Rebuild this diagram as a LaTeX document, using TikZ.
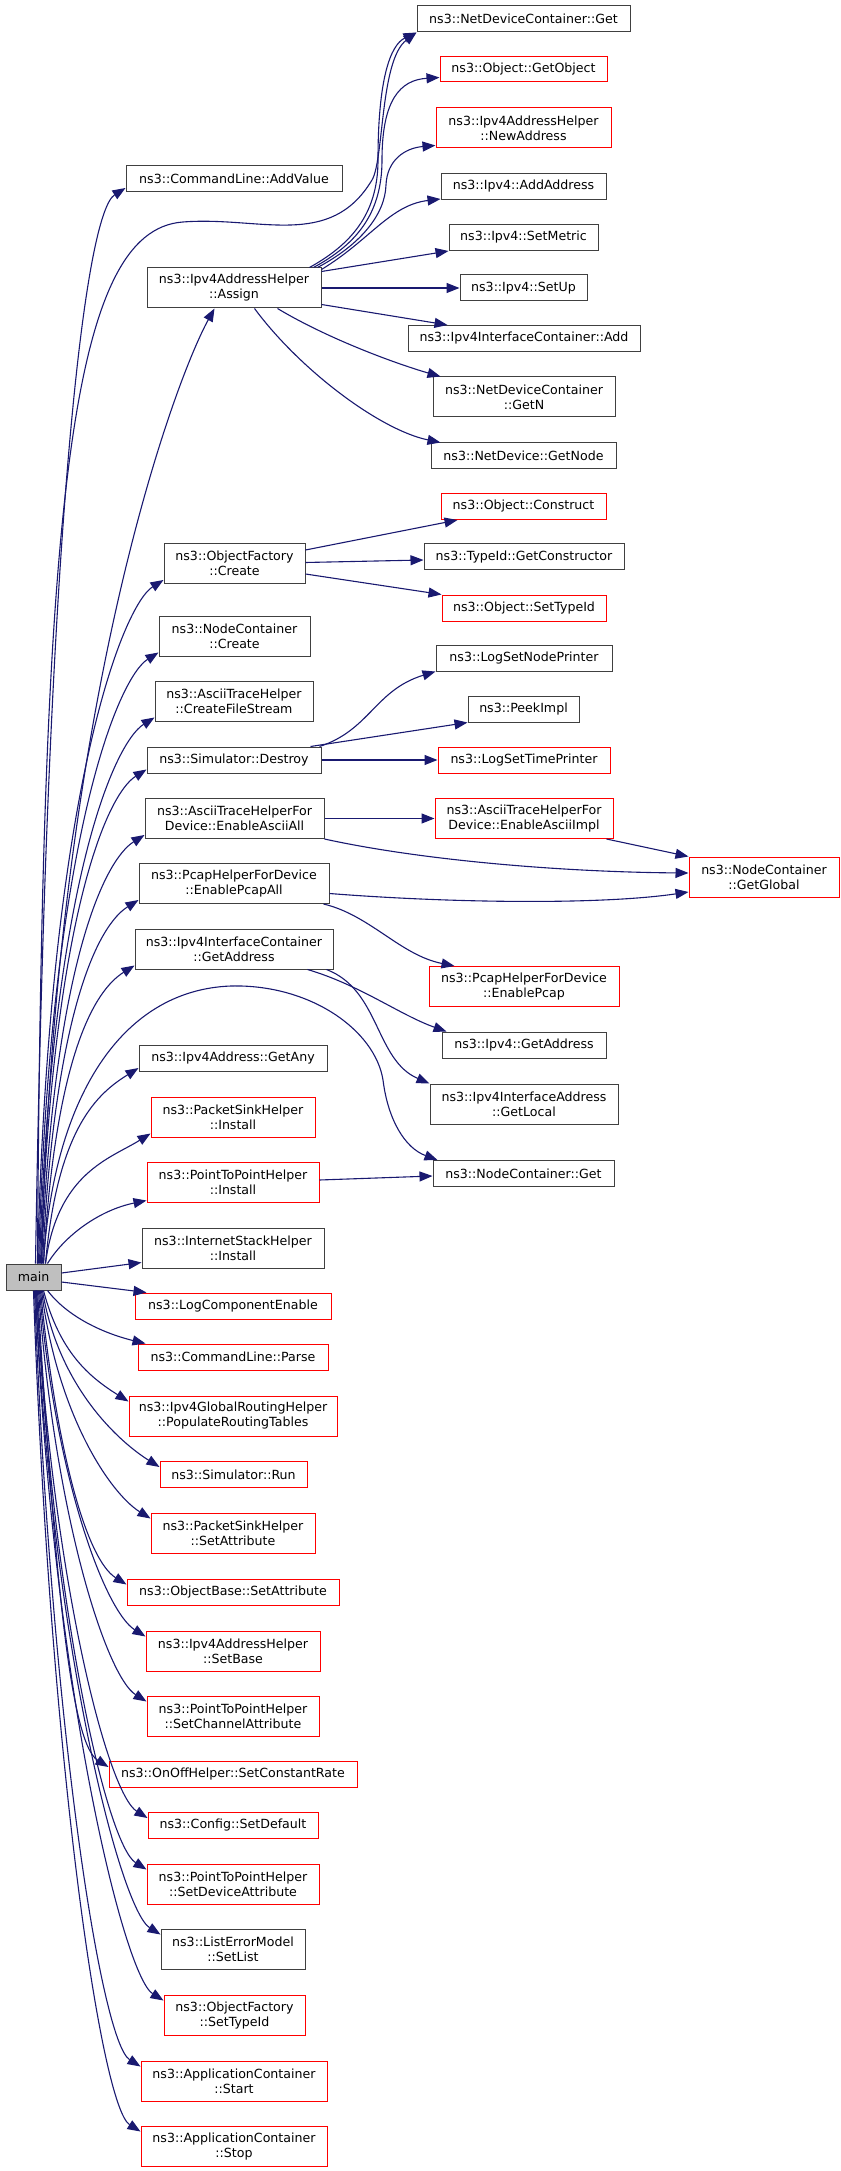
\documentclass[tikz,border=0pt]{standalone}
\usepackage{fontspec}
\usetikzlibrary{arrows.meta,calc}
\newfontfamily\dejavu{DejaVu Sans}
\newdimen\gpx \gpx=0.5pt
\newcommand\graphfont{\dejavu\fontsize{6.3}{7.5}\selectfont}
\definecolor{edgeblue}{HTML}{191970}
\definecolor{boxgrey}{HTML}{404040}
\definecolor{mainfill}{HTML}{BFBFBF}

\begin{document}
\begin{tikzpicture}[x=0.5pt,y=-0.5pt,
  fn/.style={draw=boxgrey, fill=white, line width=0.5pt, inner sep=0pt, align=center, font=\graphfont, minimum height=26\gpx},
  fnred/.style={fn, draw=red},
  two/.style={minimum height=40\gpx},
  callarrow/.style={draw=edgeblue, line width=0.55pt, -{Triangle[length=6.5pt,width=5pt]}}]
\useasboundingbox (0,0) rectangle (840,2171);

% callees of Assign, Create, Destroy, ...
\node[fn, minimum width=213\gpx] (ndcget) at (523.5,19) {ns3::NetDeviceContainer::Get};
\node[fnred, minimum width=167\gpx, minimum height=25\gpx] (getobject) at (523.5,69.5) {ns3::Object::GetObject};
\node[fnred, two, minimum width=175\gpx] (newaddress) at (523.5,128) {ns3::Ipv4AddressHelper\\::NewAddress};
\node[fn, minimum width=165\gpx] (addaddress) at (523.5,186.5) {ns3::Ipv4::AddAddress};
\node[fn, minimum width=149\gpx] (setmetric) at (523.5,237.5) {ns3::Ipv4::SetMetric};
\node[fn, minimum width=127\gpx] (setup) at (523.5,288) {ns3::Ipv4::SetUp};
\node[fn, minimum width=232\gpx] (ifcadd) at (524,338.5) {ns3::Ipv4InterfaceContainer::Add};
\node[fn, two, minimum width=182\gpx] (getn) at (524,397) {ns3::NetDeviceContainer\\::GetN};
\node[fn, minimum width=185\gpx] (getnode) at (523.5,456) {ns3::NetDevice::GetNode};
\node[fnred, minimum width=165\gpx] (construct) at (523.5,506.5) {ns3::Object::Construct};
\node[fn, minimum width=200\gpx] (getconstructor) at (524,557) {ns3::TypeId::GetConstructor};
\node[fnred, minimum width=164\gpx] (settypeid) at (524,608) {ns3::Object::SetTypeId};
\node[fn, minimum width=176\gpx] (lognodeprinter) at (524,658) {ns3::LogSetNodePrinter};
\node[fn, minimum width=111\gpx] (peekimpl) at (523.5,709) {ns3::PeekImpl};
\node[fnred, minimum width=172\gpx] (logtimeprinter) at (524,760) {ns3::LogSetTimePrinter};
\node[fnred, two, minimum width=178\gpx] (asciiimpl) at (524,818.5) {ns3::AsciiTraceHelperFor\\Device::EnableAsciiImpl};
\node[fnred, two, minimum width=190\gpx] (enablepcap) at (524,986.5) {ns3::PcapHelperForDevice\\::EnablePcap};
\node[fn, minimum width=164\gpx] (ipv4getaddress) at (524,1045) {ns3::Ipv4::GetAddress};
\node[fn, two, minimum width=188\gpx] (getlocal) at (524,1104) {ns3::Ipv4InterfaceAddress\\::GetLocal};
\node[fn, minimum width=181\gpx] (ncget) at (523.5,1173.5) {ns3::NodeContainer::Get};
\node[fnred, two, minimum width=150\gpx] (getglobal) at (764,877) {ns3::NodeContainer\\::GetGlobal};

% callees of main
\node[fn, minimum width=216\gpx] (addvalue) at (234,178.5) {ns3::CommandLine::AddValue};
\node[fn, two, minimum width=174\gpx] (assign) at (234,288) {ns3::Ipv4AddressHelper\\::Assign};
\node[fn, two, minimum width=141\gpx] (ofcreate) at (234.5,563.5) {ns3::ObjectFactory\\::Create};
\node[fn, two, minimum width=151\gpx] (nccreate) at (234.5,636) {ns3::NodeContainer\\::Create};
\node[fn, two, minimum width=158\gpx] (filestream) at (234,701) {ns3::AsciiTraceHelper\\::CreateFileStream};
\node[fn, minimum width=174\gpx] (destroy) at (234,760) {ns3::Simulator::Destroy};
\node[fn, two, minimum width=179\gpx] (asciiall) at (234.5,818.5) {ns3::AsciiTraceHelperFor\\Device::EnableAsciiAll};
\node[fn, two, minimum width=190\gpx] (pcapall) at (234,883.5) {ns3::PcapHelperForDevice\\::EnablePcapAll};
\node[fn, two, minimum width=198\gpx] (getaddress) at (234,949) {ns3::Ipv4InterfaceContainer\\::GetAddress};
\node[fn, minimum width=188\gpx] (getany) at (233,1058.5) {ns3::Ipv4Address::GetAny};
\node[fnred, two, minimum width=164\gpx] (psinstall) at (233,1117) {ns3::PacketSinkHelper\\::Install};
\node[fnred, two, minimum width=172\gpx] (p2pinstall) at (233,1182) {ns3::PointToPointHelper\\::Install};
\node[fn, two, minimum width=182\gpx] (ishinstall) at (233,1248) {ns3::InternetStackHelper\\::Install};
\node[fn, fill=mainfill, minimum width=55\gpx] (main) at (33.5,1277) {main};
\node[fnred, minimum width=196\gpx] (logcomp) at (233,1306) {ns3::LogComponentEnable};
\node[fnred, minimum width=190\gpx] (parse) at (233,1357) {ns3::CommandLine::Parse};
\node[fnred, two, minimum width=208\gpx] (routing) at (233,1416) {ns3::Ipv4GlobalRoutingHelper\\::PopulateRoutingTables};
\node[fnred, minimum width=147\gpx] (simrun) at (233.5,1474.5) {ns3::Simulator::Run};
\node[fnred, two, minimum width=164\gpx] (pssetattr) at (233,1533) {ns3::PacketSinkHelper\\::SetAttribute};
\node[fnred, minimum width=212\gpx] (obsetattr) at (233,1592) {ns3::ObjectBase::SetAttribute};
\node[fnred, two, minimum width=174\gpx] (setbase) at (233,1651) {ns3::Ipv4AddressHelper\\::SetBase};
\node[fnred, two, minimum width=172\gpx] (chanattr) at (233,1716) {ns3::PointToPointHelper\\::SetChannelAttribute};
\node[fnred, minimum width=248\gpx] (constrate) at (233,1774.5) {ns3::OnOffHelper::SetConstantRate};
\node[fnred, minimum width=170\gpx] (setdefault) at (233,1825.5) {ns3::Config::SetDefault};
\node[fnred, two, minimum width=172\gpx] (devattr) at (233,1884) {ns3::PointToPointHelper\\::SetDeviceAttribute};
\node[fn, two, minimum width=144\gpx] (setlist) at (233,1949) {ns3::ListErrorModel\\::SetList};
\node[fnred, two, minimum width=141\gpx] (oftypeid) at (234.5,2015) {ns3::ObjectFactory\\::SetTypeId};
\node[fnred, two, minimum width=186\gpx] (appstart) at (234,2081) {ns3::ApplicationContainer\\::Start};
\node[fnred, two, minimum width=186\gpx] (appstop) at (234,2146) {ns3::ApplicationContainer\\::Stop};

% Assign
\draw[callarrow] ([xshift=-12\gpx]assign.north east) .. controls (350,245) and (378,215) .. (378,160) .. controls (378,80) and (390,45) .. (ndcget.south west);
\draw[callarrow] ([xshift=-8\gpx]assign.north east) .. controls (355,245) and (382,215) .. (382,160) .. controls (382,100) and (400,80) .. ([yshift=-8\gpx]getobject.west);
\draw[callarrow] ([xshift=-4\gpx]assign.north east) .. controls (360,245) and (385,215) .. (386,185) .. controls (387,160) and (405,148) .. ([yshift=3\gpx]newaddress.south west);
\draw[callarrow] ([yshift=-2\gpx]assign.north east) .. controls (370,240) and (390,205) .. ([yshift=1\gpx]addaddress.south west);
\draw[callarrow] ([yshift=-4\gpx]assign.north east) -- (setmetric.south west);
\draw[callarrow] (assign.east) -- (setup.west);
\draw[callarrow] ([yshift=4\gpx]assign.south east) -- ([xshift=40\gpx]ifcadd.north west);
\draw[callarrow] ([xshift=-44\gpx]assign.south east) .. controls (330,340) and (400,365) .. ([xshift=8\gpx]getn.north west);
\draw[callarrow] ([xshift=-67\gpx]assign.south east) .. controls (300,370) and (380,430) .. ([xshift=10\gpx]getnode.north west);

% ObjectFactory::Create, Simulator::Destroy
\draw[callarrow] ([yshift=-7\gpx]ofcreate.north east) -- ([xshift=17\gpx]construct.south west);
\draw[callarrow] ([yshift=1\gpx]ofcreate.east) -- ([yshift=-3\gpx]getconstructor.west);
\draw[callarrow] ([yshift=10\gpx]ofcreate.south east) -- (settypeid.north west);
\draw[callarrow] ([xshift=-2\gpx]destroy.north east) .. controls (370,730) and (375,690) .. (lognodeprinter.south west);
\draw[callarrow] ([xshift=-11\gpx]destroy.north east) -- (peekimpl.south west);
\draw[callarrow] (destroy.east) -- (logtimeprinter.west);

% trace helpers
\draw[callarrow] (asciiall.east) -- (asciiimpl.west);
\draw[callarrow] (asciiall.south east) .. controls (420,860) and (560,872) .. ([yshift=4\gpx]getglobal.west);
\draw[callarrow] ([xshift=-7\gpx]asciiimpl.south east) -- (getglobal.north west);
\draw[callarrow] ([yshift=-10\gpx]pcapall.east) .. controls (450,903) and (600,905) .. ([yshift=-15\gpx]getglobal.west);
\draw[callarrow] ([xshift=-6\gpx]pcapall.south east) .. controls (370,915) and (400,955) .. ([xshift=26\gpx]enablepcap.north west);

% GetAddress, Install
\draw[callarrow] ([xshift=-26\gpx]getaddress.south east) .. controls (360,985) and (400,1015) .. ([xshift=5\gpx]ipv4getaddress.north west);
\draw[callarrow] ([xshift=-7\gpx]getaddress.south east) .. controls (380,990) and (375,1060) .. (getlocal.north west);
\draw[callarrow] ([yshift=2\gpx]p2pinstall.east) -- ([yshift=-2.5\gpx]ncget.west);

% main
\draw[callarrow] ([xshift=4\gpx]main.north) .. controls (42,500) and (70,230) .. (183,222) .. controls (260,216) and (330,250) .. (372,180) .. controls (384,160) and (380,60) .. (ndcget.south west);
\draw[callarrow] ([xshift=8\gpx]main.north) .. controls (55,700) and (175,380) .. ([xshift=68\gpx]assign.south west);
\draw[callarrow] ([xshift=10\gpx]main.north) .. controls (53,1100) and (120,990) .. (231,986) .. controls (310,984) and (375,1030) .. (383,1080) .. controls (388,1120) and (405,1148) .. ([xshift=5\gpx]ncget.north west);
\draw[callarrow] ([xshift=14\gpx]main.north) .. controls (65,1235) and (100,1210) .. ([yshift=2\gpx]p2pinstall.south west);
\draw[callarrow] ([yshift=4\gpx]main.east) -- ([yshift=6\gpx]ishinstall.south west);
\draw[callarrow] ([yshift=-5\gpx]main.east) -- ([xshift=12\gpx]logcomp.north west);
\draw[callarrow] ([xshift=14\gpx]main.south) .. controls (70,1320) and (110,1335) .. ([xshift=8\gpx]parse.north west);
\foreach \n/\sx in {addvalue/2, ofcreate/4, nccreate/5, filestream/6, destroy/7, asciiall/8, pcapall/9, getaddress/10, getany/12, psinstall/12}{
  \coordinate (s) at ([xshift=\sx\gpx]main.north);
  \coordinate (e) at ([yshift=4\gpx]\n.south west);
  \draw[callarrow] (s) .. controls ($(s)!0.7!(s|-e)+(12,0)$) and ($(e)+(-40,25)$) .. (e);
}
\foreach \n/\sx in {routing/10, simrun/9, pssetattr/8, obsetattr/7, setbase/6, chanattr/5, constrate/4, setdefault/3, devattr/3, setlist/2, oftypeid/2, appstart/1, appstop/0}{
  \coordinate (s) at ([xshift=\sx\gpx]main.south);
  \coordinate (e) at ([yshift=-6\gpx]\n.north west);
  \draw[callarrow] (s) .. controls ($(s)!0.55!(s|-e)+(16,0)$) and ($(e)+(-40,-25)$) .. (e);
}
\end{tikzpicture}
\end{document}
